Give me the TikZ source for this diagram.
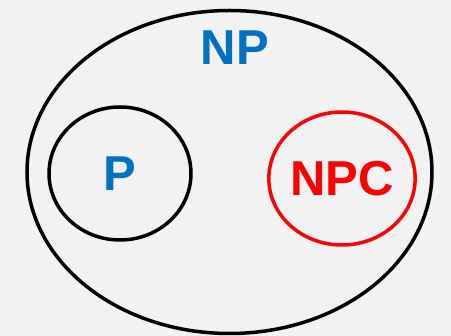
\documentclass[tikz,border=0pt]{standalone}
\usepackage{fontspec}
\setsansfont{Liberation Sans}
\usetikzlibrary{shapes.geometric}
\definecolor{paper}{HTML}{F2F2F2}
\definecolor{setblue}{HTML}{0070C0}
\definecolor{setred}{HTML}{FF0000}
\tikzset{
  % mengen
  setring/.style={ellipse,draw=black,line width=3.5pt,inner sep=0pt},
  setname/.style={font=\sffamily\bfseries\fontsize{49}{58}\selectfont,inner sep=0pt},
}
\begin{document}
\begin{tikzpicture}[x=1pt,y=-1pt]
  \fill[paper] (0,0) rectangle (451,336);
  \useasboundingbox (0,0) rectangle (451,336);
  \node[setring,minimum width=405pt,minimum height=323pt] (np) at (229.5,172) {};
  \node[setname,text=setblue] (nplabel) at (235,48) {NP};
  \node[setring,minimum width=142pt,minimum height=133pt,
        setname,text=setblue] (p) at (120,173.5) {P};
  \node[setring,draw=setred,minimum width=144pt,minimum height=133pt,
        setname,text=setred] (npc) at (342,178.5) {NPC};
\end{tikzpicture}
\end{document}
